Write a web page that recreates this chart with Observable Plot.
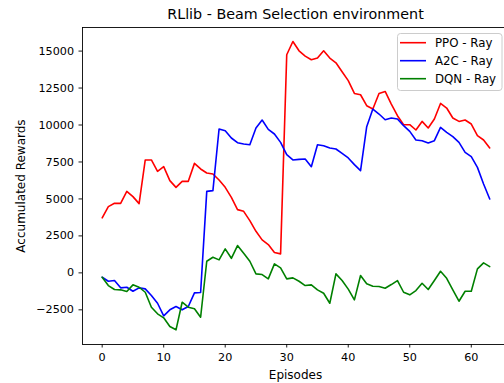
<!DOCTYPE html>
<html>
<head>
<meta charset="utf-8">
<script src="https://cdn.jsdelivr.net/npm/d3@7"></script>
<script src="https://cdn.jsdelivr.net/npm/@observablehq/plot@0.6"></script>
<style>
  html, body { margin: 0; padding: 0; background: #fff; overflow: hidden; }
  #chart { width: 504px; height: 383px; }
</style>
</head>
<body>
<div id="chart"></div>
<script>
const seriesNames = ["PPO - Ray", "A2C - Ray", "DQN - Ray"];
const seriesColors = ["#ff0000", "#0000ff", "#008000"];

const ppo = [3716, 4480, 4703, 4703, 5514, 5155, 4682, 7635, 7635, 6865,
  7182, 6236, 5784, 6189, 6189, 7405, 7027, 6757, 6689, 6284,
  5784, 5108, 4277, 4162, 3534, 2811, 2230, 1912, 1372, 1284,
  14750, 15650, 15020, 14660, 14410, 14527, 15020, 14527, 14210, 13600,
  13000, 12135, 12047, 11304, 11081, 12135, 12270, 11419, 10628, 10020,
  10020, 9662, 10243, 9797, 10405, 11459, 11149, 10473, 10243, 10338,
  10068, 9277, 8986, 8446];

const a2c = [-297, -568, -520, -1014, -973, -1243, -1014, -1081, -1534, -2054,
  -2905, -2500, -2277, -2500, -2277, -1351, -1331, 5514, 5560, 9730,
  9615, 9122, 8804, 8716, 8669, 9797, 10338, 9703, 9392, 8824,
  7993, 7635, 7676, 7703, 7182, 8669, 8601, 8446, 8378, 8081,
  7770, 7318, 6912, 9885, 11081, 10743, 10358, 10473, 10405, 9953,
  9568, 8986, 8939, 8784, 8939, 9838, 9500, 9209, 8824, 8149,
  7858, 7135, 6014, 5000];

const dqn = [-297, -858, -1128, -1149, -1264, -811, -973, -1311, -2324, -2770,
  -3040, -3628, -3851, -1986, -2324, -2432, -3000, 784, 1054, 878,
  1622, 986, 1845, 1324, 784, -68, -115, -405, 608, 338,
  -405, -338, -568, -858, -811, -1149, -1378, -2054, -68, -520,
  -1100, -1824, -182, -743, -905, -926, -1041, -791, -520, -1311,
  -1486, -1196, -703, -1128, -520, 108, -365, -1149, -1919, -1243,
  -1243, 270, 676, 426];

const xTicks = [0, 10, 20, 30, 40, 50, 60];
const yTicks = [-2500, 0, 2500, 5000, 7500, 10000, 12500, 15000];
const titleText = "RLlib - Beam Selection environment";
const xLabel = "Episodes";
const yLabel = "Accumulated Rewards";

const xDomain = [-3.2, 65.4];
const yDomain = [-4845, 16595];

const allSeries = [ppo, a2c, dqn];
const tables = allSeries.map((vals, s) =>
  vals.map((v, i) => ({episode: i, value: v, series: seriesNames[s]})));

const fmt = d => d < 0 ? "\u2212" + Math.abs(d) : String(d);

const chart = Plot.plot({
  width: 504,
  height: 383,
  marginLeft: 82,
  marginRight: 0,
  marginTop: 27,
  marginBottom: 39,
  style: {fontFamily: "'DejaVu Sans', sans-serif", fontSize: "11.2px", color: "#000", background: "#fff"},
  x: {domain: xDomain},
  y: {domain: yDomain},
  marks: [
    Plot.axisX({ticks: xTicks, tickSize: 3.5, tickPadding: 5.5, label: null, fontSize: 11.2, strokeWidth: 0.9}),
    Plot.axisY({ticks: yTicks, tickSize: 3.5, tickPadding: 5, label: null, tickFormat: fmt, fontSize: 11.2, strokeWidth: 0.9}),
    ...tables.map((t, s) => Plot.line(t, {x: "episode", y: "value", stroke: seriesColors[s], strokeWidth: 1.6})),
    Plot.ruleY([yDomain[0], yDomain[1]], {stroke: "#000", strokeWidth: 0.9}),
    Plot.ruleX([xDomain[0]], {stroke: "#000", strokeWidth: 0.9}),
    Plot.text([titleText], {text: d => d, frameAnchor: "top", dy: -13, dx: 2, fontSize: 14.3, lineAnchor: "middle", fill: "#000"}),
    Plot.text([xLabel], {text: d => d, frameAnchor: "bottom", dy: 31, dx: 2, fontSize: 12, lineAnchor: "middle", fill: "#000"}),
    Plot.text([yLabel], {text: d => d, frameAnchor: "left", dx: -61, rotate: -90, fontSize: 12, textAnchor: "middle", lineAnchor: "middle", fill: "#000"})
  ]
});

document.getElementById("chart").appendChild(chart);

// Legend (upper right, matplotlib style)
const svg = d3.select(chart);
const lg = svg.append("g").attr("transform", "translate(397.5,33.5)");
lg.append("rect")
  .attr("x", 0).attr("y", 0)
  .attr("width", 104.5).attr("height", 57)
  .attr("rx", 3).attr("ry", 3)
  .style("fill", "#ffffff").style("fill-opacity", "0.8")
  .style("stroke", "#cccccc").style("stroke-width", "1px");
seriesNames.forEach((name, i) => {
  const y = 9.2 + i * 18;
  lg.append("line")
    .attr("x1", 2.5).attr("x2", 28.5).attr("y1", y).attr("y2", y)
    .style("stroke", seriesColors[i]).style("stroke-width", "1.6px");
  lg.append("text")
    .attr("x", 37.5).attr("y", y).attr("dy", "0.35em")
    .style("text-anchor", "start")
    .style("font-family", "'DejaVu Sans', sans-serif")
    .style("font-size", "11.8px").style("fill", "#000")
    .text(name);
});
</script>
</body>
</html>
